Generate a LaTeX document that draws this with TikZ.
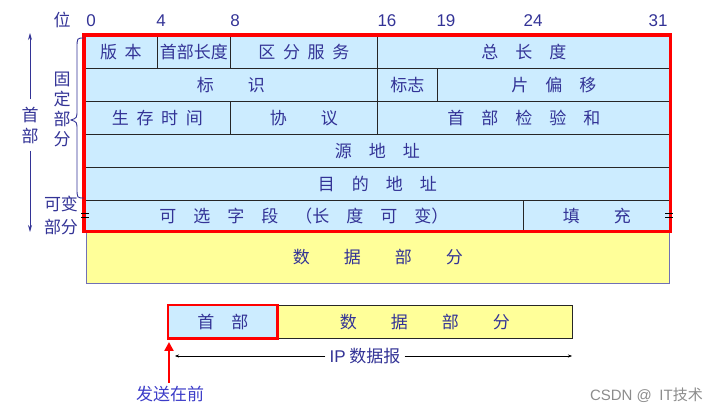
\documentclass[tikz,border=0pt]{standalone}
\usepackage{fontspec}
\setmainfont{Noto Sans CJK SC}
\newfontfamily\numfont{Liberation Sans}
\usetikzlibrary{arrows.meta}

\definecolor{hdrblue}{RGB}{204,236,255}
\definecolor{datayellow}{RGB}{255,255,153}
\definecolor{ipnavy}{RGB}{51,51,150}
\definecolor{sendblue}{RGB}{60,60,200}

\newcommand{\gp}{\hspace{.45em}}

\tikzset{
    field/.style={draw=black!85, line width=.7pt, fill=hdrblue, text=ipnavy,
        anchor=north west, inner sep=0pt, minimum height=33pt,
        font=\fontsize{17}{19}\selectfont},
    datafield/.style={field, fill=datayellow, draw=ipnavy!70},
    bitnum/.style={text=ipnavy, inner sep=0pt, font=\numfont\fontsize{17}{19}\selectfont},
    sidelbl/.style={text=ipnavy, inner sep=0pt, font=\fontsize{17}{19}\selectfont},
}

\begin{document}
\begin{tikzpicture}[x=1pt, y=-1pt]
    \useasboundingbox (0,0) rectangle (716,414);

    % bit numbers
    \node[sidelbl] (wei) at (62,20) {位};
    \node[bitnum] (b0) at (91,21) {0};
    \node[bitnum] (b4) at (161,21) {4};
    \node[bitnum] (b8) at (235,21) {8};
    \node[bitnum] (b16) at (387,21) {16};
    \node[bitnum] (b19) at (446,21) {19};
    \node[bitnum] (b24) at (533,21) {24};
    \node[bitnum] (b31) at (658,21) {31};

    % header rows
    \node[field, minimum width=73pt] (ver) at (84,35) {版\gp 本};
    \node[field, minimum width=73pt] (hlen) at (157,35) {首部长度};
    \node[field, minimum width=147pt] (tos) at (230,35) {区\gp 分\gp 服\gp 务};
    \node[field, minimum width=293pt] (tlen) at (377,35) {总　长　度};

    \node[field, minimum width=293pt] (ident) at (84,68) {标　　识};
    \node[field, minimum width=60pt] (flags) at (377,68) {标志};
    \node[field, minimum width=233pt] (frag) at (437,68) {片　偏　移};

    \node[field, minimum width=146pt] (ttl) at (84,101) {生\gp 存\gp 时\gp 间};
    \node[field, minimum width=147pt] (proto) at (230,101) {协　　议};
    \node[field, minimum width=293pt] (cksum) at (377,101) {首　部　检　验　和};

    \node[field, minimum width=586pt] (src) at (84,134) {源　地　址};
    \node[field, minimum width=586pt] (dst) at (84,167) {目　的　地　址};

    \node[field, minimum width=439pt, minimum height=31pt] (opt) at (84,200) {可　选　字　段　（长　度　可　变）};
    \node[field, minimum width=147pt, minimum height=31pt] (pad) at (523,200) {填　　充};

    \node[datafield, minimum width=583pt, minimum height=52pt] (data) at (86,231) {数　　据　　部　　分};

    % red frame round the header
    \draw[red, line width=3.5pt] (ver.north west) rectangle (pad.south east);

    % break marks
    \draw[line width=1pt] (81,214) -- (89,214) (81,218) -- (89,218);
    \draw[line width=1pt] (665,214) -- (673,214) (665,218) -- (673,218);

    % brace for the fixed part
    \draw[ipnavy, line width=.9pt] (84,38) .. controls (77,38) .. (77,48) -- (77,110)
        .. controls (77,118) .. (71,120) .. controls (77,122) .. (77,130) -- (77,188)
        .. controls (77,198) .. (84,198);

    % side labels
    \node[sidelbl, align=center, font=\fontsize{17}{20}\selectfont] (fixed) at (62,109) {固\\定\\部\\分};
    \node[sidelbl, align=center, font=\fontsize{17}{23}\selectfont] (var) at (61,215) {可变\\部分};
    \node[sidelbl, align=center, font=\fontsize{17}{21}\selectfont] (hdr) at (30,125) {首\\部};
    \coordinate (hdrtop) at (30,33);
    \coordinate (hdrbot) at (30,232);
    \draw[ipnavy, line width=.9pt, -{Stealth[length=7pt, width=4pt]}] (hdr.north) ++(0,-7) -- (hdrtop);
    \draw[ipnavy, line width=.9pt, -{Stealth[length=7pt, width=4pt]}] (hdr.south) ++(0,7) -- (hdrbot);

    % datagram below
    \node[field, minimum width=109pt, minimum height=33pt] (phdr) at (168,305) {首　部};
    \node[field, fill=datayellow, minimum width=295pt, minimum height=33pt] (pdata) at (277,305) {数　　据　　部　　分};
    \draw[red, line width=2.5pt] (phdr.north west) rectangle (phdr.south east);

    \coordinate (dgl) at (175,356);
    \coordinate (dgr) at (572,356);
    \node[text=ipnavy, fill=white, inner sep=4pt, font=\fontsize{17}{19}\selectfont] (dglbl) at (365,356) {{\numfont IP} 数据报};
    \draw[-{Stealth[length=4pt, width=3pt]}] (dglbl.west) -- (dgl);
    \draw[-{Stealth[length=4pt, width=3pt]}] (dglbl.east) -- (dgr);

    \node[text=sendblue, inner sep=0pt, font=\fontsize{17}{19}\selectfont] (send) at (170,394) {发送在前};
    \coordinate (sendtip) at (169,342);
    \draw[red, line width=2.5pt, -{Triangle[length=9pt, width=9pt]}] (send.north) ++(-1,-3) -- (sendtip);

    \node[text=black!45, inner sep=0pt, anchor=east, font=\numfont\fontsize{15}{17}\selectfont] (mark) at (703,395) {CSDN @\,\,\,IT{\rmfamily 技术}};
\end{tikzpicture}
\end{document}
